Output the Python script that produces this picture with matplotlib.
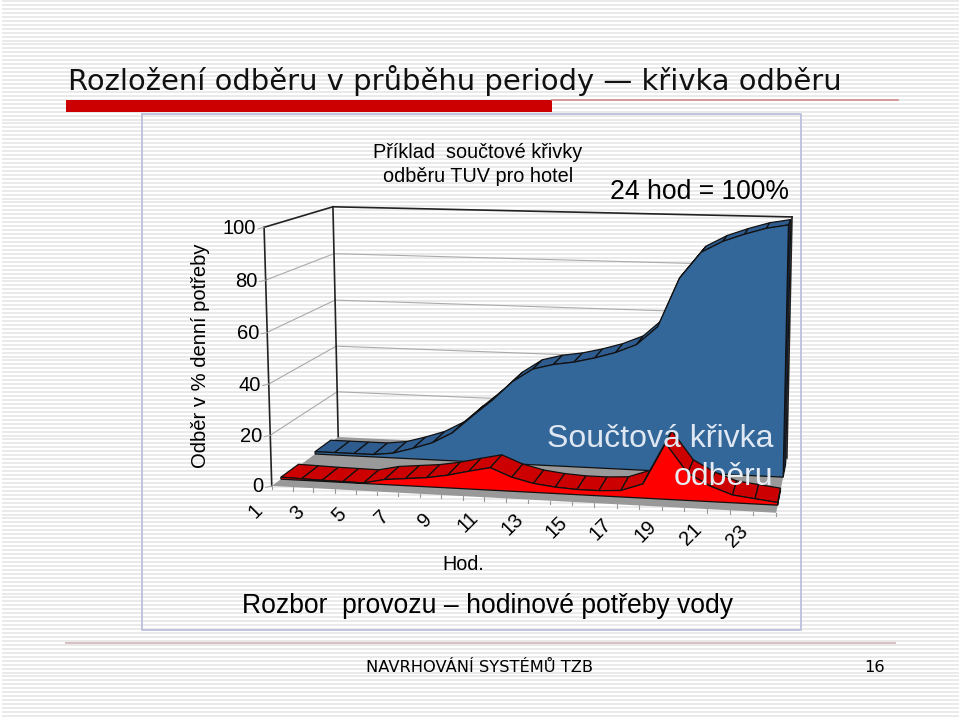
import numpy as np
import matplotlib
matplotlib.use('Agg')
import matplotlib.pyplot as plt

# --- data ---
hours = np.arange(1, 25)
cumulative = [1, 1, 1, 1, 2, 4.4, 7.2, 11.7, 19, 26, 34, 39.5, 41.7, 43, 45, 47.5,
              51, 58.5, 78, 88.5, 93, 96, 98.5, 100]
hourly = [0.8, 0.6, 0.4, 0.3, 0.2, 2, 2.8, 3.6, 5, 7, 8.8, 5.5, 3.5, 2.5, 2, 2,
          2.5, 5.5, 21.5, 10.5, 6, 3, 2, 1]
value_ticks = [0, 20, 40, 60, 80, 100]
hour_labels = ['1', '3', '5', '7', '9', '11', '13', '15', '17', '19', '21', '23']

title = 'Rozložení odběru v průběhu periody — křivka odběru'

# corners of the chart box on the picture: (hour pos 0..1, depth 0..1, value) -> pixel
corners = [
    (0, 0, 0, 272, 486), (1, 0, 0, 776, 513),
    (0, 1, 0, 338, 437), (1, 1, 0, 787, 458),
    (0, 0, 100, 264, 227), (0, 1, 100, 333, 207),
    (1, 1, 100, 792, 217),
]

rows, rhs = [], []
for u, d, v, px, py in corners:
    v = v / 100
    rows.append([u, d, v, 1, 0, 0, 0, 0, -px * u, -px * d, -px * v])
    rhs.append(px)
    rows.append([0, 0, 0, 0, u, d, v, 1, -py * u, -py * d, -py * v])
    rhs.append(py)
P = np.linalg.lstsq(np.array(rows, float), np.array(rhs, float), rcond=None)[0]
P = np.append(P, 1).reshape(3, 4)


def project(hour_pos, depth, value):
    """hour position (0..23), depth (0..1), value (%) -> picture pixel"""
    u = np.asarray(hour_pos, float) / 23
    d = np.broadcast_to(depth, u.shape).astype(float)
    v = np.broadcast_to(value, u.shape).astype(float) / 100
    pts = np.stack([u, d, v, np.ones_like(u)])
    x, y, w = P @ pts
    return x / w, y / w


fig = plt.figure(figsize=(9.59, 7.17), dpi=100)
ax = fig.add_axes([0, 0, 1, 1])
ax.set_xlim(0, 959)
ax.set_ylim(717, 0)
ax.axis('off')

# striped slide background
ax.hlines(np.arange(1, 717, 3.95), 2, 959, color='#e4e4e4', lw=1.1, zorder=0)

# title and decoration
ax.text(68, 80, title, fontsize=20.9, family='DejaVu Sans', va='center', color='#111111')
ax.fill([66, 552, 552, 66], [100, 100, 112, 112], color='#cc0000', lw=0)
ax.plot([552, 898], [100, 100], color='#d08c8c', lw=1.2)
ax.plot([142, 801, 801, 142, 142], [114, 114, 630, 630, 114], color='#bcbfdc', lw=1.3)
ax.plot([66, 895], [643, 643], color='#d8c0c4', lw=1.5)

# walls
x0 = np.array([0, 23])
for val in value_ticks[1:-1]:
    x, y = project([0, 0], [0, 1], [val, val])
    ax.plot(x, y, color='#aaaaaa', lw=0.8, zorder=0.9)
    x, y = project(x0, 1, [val, val])
    ax.plot(x, y, color='#aaaaaa', lw=0.8, zorder=0.9)
x, y = project([0, 0, 0, 23], [0, 1, 1, 1], [100, 100, 100, 100])
ax.plot(x, y, color='#222222', lw=1.2, zorder=0.9)
for d in (0, 1):
    x, y = project([0, 0], d, [0, 100])
    ax.plot(x, y, color='#222222', lw=1.2, zorder=0.9)
x, y = project([23, 23], 1, [0, 100])
ax.plot(x, y, color='#222222', lw=1.2, zorder=0.9)

# floor
x, y = project([0, 23, 23, 0], [0, 0, 1, 1], 0)
ax.fill(x, y, color='#999999', lw=0)

# ticks
tick_pos = np.arange(0, 24)
tx, ty = project(tick_pos, 0, 0)
for a, b in zip(tx, ty):
    ax.plot([a, a], [b, b + 3.5], color='#999999', lw=0.8, zorder=0.9)
for v in value_ticks:
    x, y = project(0, 0, v)
    ax.plot([x - 6, x], [y + 1.5, y], color='#aaaaaa', lw=0.8, zorder=0.9)
    ax.text(x - 8, y + 1, str(v), fontsize=14.5, family='Liberation Sans', ha='right', va='center')
for i, lab in enumerate(hour_labels):
    x, y = project(2 * i, 0, 0)
    ax.text(x - 16, y + 25, lab, fontsize=14.5, family='Liberation Sans', rotation=45,
            ha='center', va='center')


def draw_series(values, d_front, d_back, face, strip, end):
    pos = np.arange(len(values))
    vals = np.asarray(values, float)
    for i in range(len(vals) - 1):
        xq = [pos[i], pos[i + 1], pos[i + 1], pos[i]]
        x, y = project(xq, [d_front, d_front, d_back, d_back], [vals[i], vals[i + 1], vals[i + 1], vals[i]])
        ax.fill(x, y, facecolor=strip, edgecolor='#111111', lw=0.9)
    # right end
    x, y = project([23, 23, 23, 23], [d_front, d_back, d_back, d_front], [0, 0, vals[-1], vals[-1]])
    ax.fill(x, y, facecolor=end, edgecolor='#111111', lw=0.8)
    # front face
    fx, fy = project(pos, d_front, vals)
    bx, by = project(pos[::-1], d_front, 0)
    ax.fill(np.r_[fx, bx], np.r_[fy, by], facecolor=face, edgecolor='#111111', lw=0.9)


draw_series(cumulative, 0.625, 0.875, '#336699', '#2f5c8e', '#14233a')
draw_series(hourly, 0.125, 0.375, '#ff0000', '#cc0000', '#880000')

# texts
sans = 'Liberation Sans'
ax.text(478, 152, 'Příklad  součtové křivky', fontsize=14.3, family=sans, ha='center', va='center')
ax.text(478, 177, 'odběru TUV pro hotel', fontsize=14.3, family=sans, ha='center', va='center')
ax.text(700, 192, '24 hod = 100%', fontsize=19.1, family=sans, ha='center', va='center')
ax.text(660, 439, 'Součtová křivka', fontsize=23, family=sans, color='#dfe8f2', ha='center', va='center')
ax.text(723, 477, 'odběru', fontsize=23, family=sans, color='#e8edf4', ha='center', va='center')
ax.text(463, 565, 'Hod.', fontsize=14.2, family=sans, ha='center', va='center')
ax.text(487, 606, 'Rozbor  provozu – hodinové potřeby vody', fontsize=19.1, family=sans, ha='center', va='center')
ax.text(200, 356, 'Odběr v % denní potřeby', fontsize=14.5, family=sans, rotation=90, ha='center', va='center')
ax.text(480, 667, 'NAVRHOVÁNÍ SYSTÉMŮ TZB', fontsize=11.7, family='DejaVu Sans', ha='center', va='center')
ax.text(875, 667, '16', fontsize=11.7, family='DejaVu Sans', ha='center', va='center')

fig.savefig('out.png', dpi=100)
